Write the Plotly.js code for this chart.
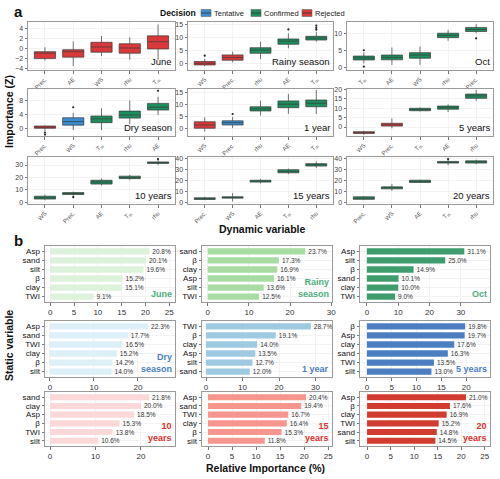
<!DOCTYPE html>
<html><head><meta charset="utf-8">
<script src="https://cdn.plot.ly/plotly-3.0.1.min.js"></script>
<style>html,body{margin:0;padding:0;background:#fff}#chart{width:500px;height:479px}</style>
</head><body><div id="chart"></div>
<script>
// ---------- Part a : Boruta importance (Z) ----------
const TM = 'T<sub>m</sub>';
const juneVars = ['Prec.','AE','WS','rhu',TM];
const juneLo  = [-2.4,-3.5,-1.5,-2.2,-2.2];
const juneQ1  = [-2.0,-1.7,-0.7,-0.9,-0.05];
const juneMed = [-0.9,-0.6,0.35,0.15,1.4];
const juneQ3  = [-0.6,-0.2,1.3,1.0,2.6];
const juneHi  = [0.3,1.5,2.6,2.3,4.9];
const juneDec = ['Rejected','Rejected','Rejected','Rejected','Rejected'];
const juneOut = [[],[],[],[],[]];

const rainyVars = ['WS','Prec.','rhu','AE',TM];
const rainyLo  = [-0.8,0.6,1.8,5.9,8.4];
const rainyQ1  = [-0.4,1.4,4.0,7.4,9.0];
const rainyMed = [0.25,2.4,5.2,8.6,9.75];
const rainyQ3  = [0.9,3.4,6.1,9.4,10.4];
const rainyHi  = [1.9,4.6,8.4,11.5,12.1];
const rainyDec = ['Rejected','Rejected','Confirmed','Confirmed','Confirmed'];
const rainyOut = [[3.1],[],[],[13.0],[12.9,13.6,14.4]];

const octVars = [TM,'AE','WS','rhu','Prec.'];
const octLo  = [1.3,0.9,0.9,8.0,10.2];
const octQ1  = [2.35,2.4,2.85,8.9,10.7];
const octMed = [2.95,3.1,3.8,9.6,11.3];
const octQ3  = [3.5,3.8,4.5,10.2,11.9];
const octHi  = [4.6,6.0,6.3,11.2,12.9];
const octDec = ['Confirmed','Confirmed','Confirmed','Confirmed','Confirmed'];
const octOut = [[5.2,0.4],[],[],[],[8.7]];

const dryVars = ['Prec.','WS',TM,'rhu','AE'];
const dryLo  = [-0.6,-0.3,-0.3,1.4,4.0];
const dryQ1  = [0.2,1.1,1.8,3.1,5.4];
const dryMed = [0.5,2.1,2.9,4.0,6.2];
const dryQ3  = [0.85,3.2,3.7,5.1,7.3];
const dryHi  = [1.0,4.6,5.9,8.1,9.2];
const dryDec = ['Rejected','Tentative','Confirmed','Confirmed','Confirmed'];
const dryOut = [[-1.0,-1.6],[6.2],[],[],[10.9]];

const y1Vars = ['WS','Prec.','rhu','AE',TM];
const y1Lo  = [-1.5,0.0,5.3,6.1,6.0];
const y1Q1  = [-0.1,1.3,7.3,8.7,9.1];
const y1Med = [1.3,2.3,8.2,10.2,10.6];
const y1Q3  = [2.7,3.1,9.1,11.6,12.0];
const y1Hi  = [4.6,4.8,11.7,14.6,16.3];
const y1Dec = ['Rejected','Tentative','Confirmed','Confirmed','Confirmed'];
const y1Out = [[],[6.0],[],[],[]];

const y5Vars = ['WS','Prec.',TM,'AE','rhu'];
const y5Lo  = [-4.2,-0.7,8.3,8.0,14.0];
const y5Q1  = [-3.4,0.5,8.7,9.5,15.3];
const y5Med = [-3.0,1.2,9.3,10.3,16.6];
const y5Q3  = [-2.5,2.0,10.0,11.2,17.6];
const y5Hi  = [-2.0,4.6,10.5,12.0,19.8];
const y5Dec = ['Rejected','Rejected','Confirmed','Confirmed','Confirmed'];
const y5Out = [[],[],[],[],[]];

const y10Vars = ['WS','Prec.','AE',TM,'rhu'];
const y10Lo  = [1.5,5.0,13.5,18.0,30.0];
const y10Q1  = [2.5,6.2,14.6,19.0,31.3];
const y10Med = [3.6,7.0,16.3,20.0,32.0];
const y10Q3  = [4.8,7.7,17.7,21.0,32.5];
const y10Hi  = [6.0,8.5,19.0,22.0,34.0];
const y10Dec = ['Confirmed','Confirmed','Confirmed','Confirmed','Confirmed'];
const y10Out = [[],[4.0],[],[],[34.8]];

const y15Vars = ['Prec.','WS','AE',TM,'rhu'];
const y15Lo  = [2.0,0.7,17.0,25.5,31.0];
const y15Q1  = [2.6,3.8,18.3,26.7,32.8];
const y15Med = [3.4,4.5,19.2,28.0,34.0];
const y15Q3  = [4.1,5.0,20.0,29.5,35.0];
const y15Hi  = [5.0,8.4,21.0,30.5,37.0];
const y15Dec = ['Confirmed','Confirmed','Confirmed','Confirmed','Confirmed'];
const y15Out = [[],[],[],[],[]];

const y20Vars = ['Prec.','WS','AE',TM,'rhu'];
const y20Lo  = [2.0,10.5,17.5,33.5,34.5];
const y20Q1  = [2.7,12.2,18.0,35.5,35.5];
const y20Med = [3.8,13.2,19.0,36.2,36.8];
const y20Q3  = [5.0,14.0,20.0,37.0,37.5];
const y20Hi  = [5.5,16.7,20.5,38.3,38.5];
const y20Dec = ['Confirmed','Confirmed','Confirmed','Confirmed','Confirmed'];
const y20Out = [[],[],[],[39.0],[]];

// ---------- Part b : relative importance (%) ----------
const juneStatic = ['Asp','sand','silt','β','clay','TWI'];
const juneRel    = [20.8,20.1,19.6,15.2,15.1,9.1];
const rainyStatic = ['sand','β','clay','Asp','silt','TWI'];
const rainyRel    = [23.7,17.3,16.9,16.1,13.6,12.5];
const octStatic = ['Asp','silt','β','sand','clay','TWI'];
const octRel    = [31.1,25.0,14.9,10.1,10.0,9.0];
const dryStatic = ['Asp','sand','TWI','clay','β','silt'];
const dryRel    = [22.3,17.7,16.5,15.2,14.2,14.0];
const y1Static = ['TWI','β','clay','Asp','silt','sand'];
const y1Rel    = [28.7,19.1,14.0,13.5,12.7,12.0];
const y5Static = ['β','Asp','clay','sand','TWI','silt'];
const y5Rel    = [19.8,19.7,17.6,16.3,13.5,13.0];
const y10Static = ['sand','clay','Asp','β','TWI','silt'];
const y10Rel    = [21.8,20.0,18.5,15.3,13.8,10.6];
const y15Static = ['Asp','sand','TWI','clay','β','silt'];
const y15Rel    = [20.4,19.4,16.7,16.4,15.3,11.8];
const y20Static = ['Asp','β','clay','TWI','sand','silt'];
const y20Rel    = [21.0,17.6,16.9,15.2,14.8,14.5];

const decisionNames = ['Tentative','Confirmed','Rejected'];

// ---------- styling / layout ----------
const W = 500, H = 479;
const decColor = {Tentative:'#3A8DD0', Confirmed:'#1E8E5E', Rejected:'#D9393A'};
const FONT = 'Liberation Sans, Arial, sans-serif';
const dx = (a,b) => [a/W, b/W];
const dy = (top,bot) => [1-bot/H, 1-top/H];

const aCols = [dx(28,175), dx(188,333), dx(347,493)];
const aRows = [dy(22,70), dy(89,136), dy(157,204)];
const bCols = [dx(45,175), dx(202,332), dx(360,490)];
const bRows = [dy(246,302), dy(321,377), dy(392,446)];

const aPanels = [
  {label:'June', v:juneVars, lo:juneLo, q1:juneQ1, med:juneMed, q3:juneQ3, hi:juneHi, dec:juneDec, out:juneOut, yr:[-4.3,5.4], dt:2},
  {label:'Rainy season', v:rainyVars, lo:rainyLo, q1:rainyQ1, med:rainyMed, q3:rainyQ3, hi:rainyHi, dec:rainyDec, out:rainyOut, yr:[-2.3,15.8], dt:5},
  {label:'Oct', v:octVars, lo:octLo, q1:octQ1, med:octMed, q3:octQ3, hi:octHi, dec:octDec, out:octOut, yr:[-0.6,13.5], dt:5},
  {label:'Dry season', v:dryVars, lo:dryLo, q1:dryQ1, med:dryMed, q3:dryQ3, hi:dryHi, dec:dryDec, out:dryOut, yr:[-2.0,11.4], dt:4},
  {label:'1 year', v:y1Vars, lo:y1Lo, q1:y1Q1, med:y1Med, q3:y1Q3, hi:y1Hi, dec:y1Dec, out:y1Out, yr:[-3.4,16.7], dt:5},
  {label:'5 years', v:y5Vars, lo:y5Lo, q1:y5Q1, med:y5Med, q3:y5Q3, hi:y5Hi, dec:y5Dec, out:y5Out, yr:[-4.8,20.3], dt:5},
  {label:'10 years', v:y10Vars, lo:y10Lo, q1:y10Q1, med:y10Med, q3:y10Q3, hi:y10Hi, dec:y10Dec, out:y10Out, yr:[-1.5,36.5], dt:10},
  {label:'15 years', v:y15Vars, lo:y15Lo, q1:y15Q1, med:y15Med, q3:y15Q3, hi:y15Hi, dec:y15Dec, out:y15Out, yr:[-1.5,41], dt:10},
  {label:'20 years', v:y20Vars, lo:y20Lo, q1:y20Q1, med:y20Med, q3:y20Q3, hi:y20Hi, dec:y20Dec, out:y20Out, yr:[-1.5,41], dt:10}
];

const GREEN_T = '#4DAE7C', BLUE_T = '#4A80C4', RED_T = '#E0302A';
const bPanels = [
  {label:'June', cats:juneStatic, vals:juneRel, color:'#DDF2DA', tc:GREEN_T, xr:[-1.1,26.2], dt:5},
  {label:'Rainy<br>season', cats:rainyStatic, vals:rainyRel, color:'#A8DCA2', tc:GREEN_T, xr:[-1.4,30.2], dt:10},
  {label:'Oct', cats:octStatic, vals:octRel, color:'#3F9C6C', tc:GREEN_T, xr:[-2.2,39.3], dt:10},
  {label:'Dry<br>season', cats:dryStatic, vals:dryRel, color:'#DDF0F8', tc:BLUE_T, xr:[-1.1,28.4], dt:10},
  {label:'1 year', cats:y1Static, vals:y1Rel, color:'#9ECAE1', tc:BLUE_T, xr:[-1.1,34.5], dt:10},
  {label:'5 years', cats:y5Static, vals:y5Rel, color:'#4B7FC1', tc:BLUE_T, xr:[-1.4,24.8], dt:5},
  {label:'10<br>years', cats:y10Static, vals:y10Rel, color:'#FDD8D8', tc:RED_T, xr:[-1.1,27.5], dt:10},
  {label:'15<br>years', cats:y15Static, vals:y15Rel, color:'#F7968F', tc:RED_T, xr:[-1.25,25.8], dt:5},
  {label:'20<br>years', cats:y20Static, vals:y20Rel, color:'#D13B30', tc:RED_T, xr:[-1.5,26.1], dt:5}
];

const baseAx = {showline:true, mirror:true, linecolor:'#9a9a9a', linewidth:1, gridcolor:'#EBEBEB', gridwidth:0.6,
  zeroline:false, ticks:'outside', ticklen:2.5, tickcolor:'#555', tickwidth:0.8, fixedrange:true};

const traces = [];
const layout = {
  width:W, height:H, margin:{l:0,r:0,t:0,b:0}, paper_bgcolor:'#fff', plot_bgcolor:'#fff',
  font:{family:FONT, color:'#222'}, boxmode:'overlay', showlegend:false,
  annotations:[], shapes:[]
};

aPanels.forEach((p, i) => {
  const n = i + 1;
  const xa = 'x' + n, ya = 'y' + n;
  const col = i % 3, row = Math.floor(i / 3);
  p.v.forEach((v, j) => {
    const d = p.dec[j];
    traces.push({type:'box', xaxis:xa, yaxis:ya, x:[v], q1:[p.q1[j]], median:[p.med[j]], q3:[p.q3[j]],
      lowerfence:[p.lo[j]], upperfence:[p.hi[j]], width:0.75, whiskerwidth:0, boxpoints:false,
      fillcolor:decColor[d], line:{color:'#3a3a3a', width:0.7}, name:d, showlegend:false, hoverinfo:'skip'});
    if (p.out[j].length) {
      traces.push({type:'scatter', mode:'markers', xaxis:xa, yaxis:ya, x:p.out[j].map(() => v), y:p.out[j],
        marker:{size:2.2, color:'#222'}, showlegend:false, hoverinfo:'skip'});
    }
  });
  layout['xaxis' + n] = Object.assign({}, baseAx, {domain:aCols[col], anchor:ya, type:'category',
    categoryorder:'array', categoryarray:p.v, range:[-0.6, p.v.length - 0.4], tickangle:-45,
    tickfont:{size:6, color:'#555'}});
  layout['yaxis' + n] = Object.assign({}, baseAx, {domain:aRows[row], anchor:xa, range:p.yr, dtick:p.dt,
    tickfont:{size:7, color:'#444'}});
  layout.annotations.push({xref:xa + ' domain', yref:ya + ' domain', x:0.995, y:0.02, xanchor:'right',
    yanchor:'bottom', text:p.label, showarrow:false, font:{size:9.5, color:'#111'}});
});

bPanels.forEach((p, i) => {
  const n = i + 10;
  const xa = 'x' + n, ya = 'y' + n;
  const col = i % 3, row = Math.floor(i / 3);
  traces.push({type:'bar', orientation:'h', xaxis:xa, yaxis:ya, x:p.vals, y:p.cats,
    marker:{color:p.color, line:{width:0}}, width:0.7, text:p.vals.map(v => v.toFixed(1) + '%'),
    textposition:'outside', constraintext:'none', cliponaxis:false,
    textfont:{size:6.5, color:'#333'}, showlegend:false, hoverinfo:'skip'});
  layout['xaxis' + n] = Object.assign({}, baseAx, {domain:bCols[col], anchor:ya, range:p.xr, dtick:p.dt,
    tick0:0, tickfont:{size:8, color:'#333'}});
  layout['yaxis' + n] = Object.assign({}, baseAx, {domain:bRows[row], anchor:xa, type:'category',
    categoryorder:'array', categoryarray:p.cats, range:[p.cats.length - 0.4, -0.6],
    tickmode:'array', tickvals:p.cats, ticktext:p.cats,
    tickfont:{size:8, color:'#111'}, showgrid:true});
  layout.annotations.push({xref:xa + ' domain', yref:ya + ' domain', x:0.99, y:0.02, xanchor:'right',
    yanchor:'bottom', align:'right', text:'<b>' + p.label + '</b>', showarrow:false,
    font:{size:9, color:p.tc}});
});

// figure-level labels
const txt = (t, px, py, size, extra) => Object.assign({xref:'paper', yref:'paper', x:px / W, y:1 - py / H,
  xanchor:'center', yanchor:'middle', text:t, showarrow:false, font:{size:size, color:'#111', family:FONT}}, extra || {});
layout.annotations.push(txt('<b>a</b>', 18, 11, 15));
layout.annotations.push(txt('<b>b</b>', 18, 240, 15));
layout.annotations.push(txt('<b>Importance (Z)</b>', 9, 112, 10.5, {textangle:-90}));
layout.annotations.push(txt('<b>Dynamic variable</b>', 262, 229, 10.5));
layout.annotations.push(txt('<b>Static variable</b>', 9, 346, 10.5, {textangle:-90}));
layout.annotations.push(txt('<b>Relative Importance (%)</b>', 265, 468, 10.5));

// Decision legend (keys + labels)
layout.annotations.push(txt('<b>Decision</b>', 160, 13, 8.6, {xanchor:'left', xshift:-2}));
const keyX = [201, 251, 302], labX = [214, 264, 315];
decisionNames.forEach((d, k) => {
  const x0 = keyX[k] / W, x1 = (keyX[k] + 10) / W, y0 = 1 - 16.5 / H, y1 = 1 - 9.5 / H;
  layout.shapes.push({type:'rect', xref:'paper', yref:'paper', x0:x0, x1:x1, y0:y0, y1:y1,
    fillcolor:decColor[d], line:{color:'#666', width:0.6}});
  layout.shapes.push({type:'line', xref:'paper', yref:'paper', x0:x0, x1:x1, y0:1 - 13 / H, y1:1 - 13 / H,
    line:{color:'#333', width:0.8}});
  layout.annotations.push(txt(d, labX[k], 13, 7.5, {xanchor:'left', xshift:-2, font:{size:7.5, color:'#222', family:FONT}}));
});

Plotly.newPlot('chart', traces, layout, {staticPlot:true, displayModeBar:false});
</script>
</body></html>
